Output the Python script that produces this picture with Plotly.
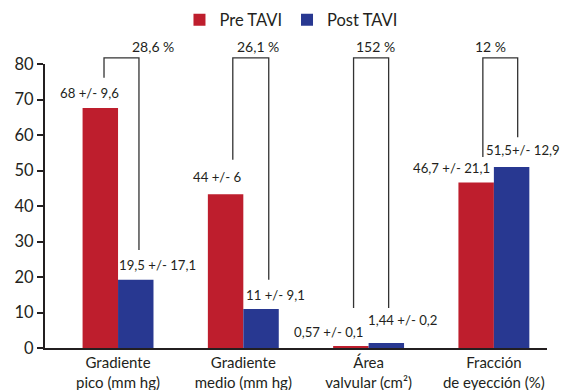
import plotly.graph_objects as go

# ---- data ----
categories = ["Gradiente<br>pico (mm hg)", "Gradiente<br>medio (mm hg)",
              "Área<br>valvular (cm²)", "Fracción<br>de eyección (%)"]
pre_values = [67.6, 43.3, 0.57, 46.6]
post_values = [19.2, 11.0, 1.44, 51.0]
pre_labels = ["68 +/- 9,6", "44 +/- 6", "0,57 +/- 0,1", "46,7 +/- 21,1"]
post_labels = ["19,5 +/- 17,1", "11 +/- 9,1", "1,44 +/- 0,2", "51,5+/- 12,9"]
change_labels = ["28,6 %", "26,1 %", "152 %", "12 %"]
# bracket leg ends (value units): left leg, right leg
bracket_left = [76.1, 53.0, 11.3, 53.8]
bracket_right = [27.6, 19.2, 11.3, 59.4]
bracket_top = 81.7
y_tick_vals = [0, 10, 20, 30, 40, 50, 60, 70, 80]

# ---- style / layout ----
RED = "#BE1E2D"
BLUE = "#283891"
FONT = "Lato"
TXT = "#231F20"
bargap = 0.434
half = (1 - bargap) / 4  # center offset of each bar within its group
pre_shift = [(-11, 15), (-8, 17), (-22, 14), (-25, 15)]
post_shift = [(22, 15), (14, 14), (17, 23), (11, 17)]
br_off = [(-0.112, 0.167), (-0.084, 0.203), (-0.12, 0.16), (-0.088, 0.19)]
pct_off = [0.096, 0.12, 0.056, 0.11]
YMAX = 80
LBL = 13.2
XR = [-0.583, 3.424]

fig = go.Figure()
fig.add_trace(go.Bar(name="Pre TAVI", x=list(range(4)), y=pre_values,
                     marker_color=RED, marker_line_width=0))
fig.add_trace(go.Bar(name="Post TAVI", x=list(range(4)), y=post_values,
                     marker_color=BLUE, marker_line_width=0))

def px(pos):
    return (pos - XR[0]) / (XR[1] - XR[0])

annotations = []
shapes = []
for i in range(4):
    annotations.append(dict(x=i - half, y=pre_values[i], xref="x", yref="y",
                            text=pre_labels[i], showarrow=False,
                            xshift=pre_shift[i][0], yshift=pre_shift[i][1],
                            font=dict(family=FONT, size=LBL, color=TXT)))
    annotations.append(dict(x=i + half, y=post_values[i], xref="x", yref="y",
                            text=post_labels[i], showarrow=False,
                            xshift=post_shift[i][0], yshift=post_shift[i][1],
                            font=dict(family=FONT, size=LBL, color=TXT)))
    xl = px(i + br_off[i][0])
    xr = px(i + br_off[i][1])
    path = (f"M {xl} {bracket_left[i]/YMAX} L {xl} {bracket_top/YMAX} "
            f"L {xr} {bracket_top/YMAX} L {xr} {bracket_right[i]/YMAX}")
    shapes.append(dict(type="path", path=path, xref="paper", yref="paper",
                       line=dict(color="#333333", width=1.3)))
    annotations.append(dict(x=px(i + pct_off[i]), y=(bracket_top / YMAX) + 0.04,
                            xref="paper", yref="paper", text=change_labels[i],
                            showarrow=False, yanchor="middle",
                            font=dict(family=FONT, size=14, color=TXT)))

fig.update_layout(
    width=562, height=382,
    margin=dict(l=37, r=23, t=56, b=42, autoexpand=False),
    paper_bgcolor="white", plot_bgcolor="white",
    barmode="group", bargap=bargap, bargroupgap=0,
    font=dict(family=FONT, size=16, color=TXT),
    showlegend=True,
    legend=dict(orientation="h", x=0.49, xanchor="center", y=1.155,
                yanchor="middle", font=dict(family=FONT, size=16.5, color=TXT),
                itemwidth=30, traceorder="normal"),
    annotations=annotations,
    shapes=shapes,
)
fig.update_xaxes(range=XR, tickvals=list(range(4)), ticktext=categories,
                 showline=True, linecolor="#231F20", linewidth=2,
                 ticks="", showgrid=False, zeroline=False, automargin=False,
                 ticklabelstandoff=0,
                 tickfont=dict(family=FONT, size=15, color=TXT))
fig.update_yaxes(range=[0, YMAX], tickvals=y_tick_vals,
                 showline=True, linecolor="#231F20", linewidth=2,
                 ticks="outside", ticklen=6, tickwidth=2, tickcolor="#231F20",
                 showgrid=False, zeroline=False, automargin=False,
                 tickfont=dict(family=FONT, size=16.5, color=TXT))

fig.write_html("out.html")
